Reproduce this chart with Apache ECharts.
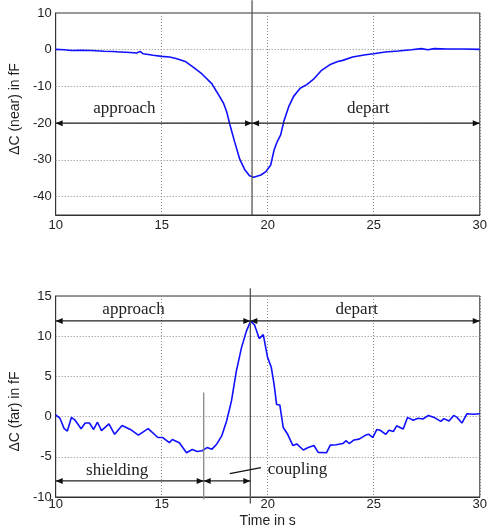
<!DOCTYPE html>
<html>
<head>
<meta charset="utf-8">
<script src="https://cdn.jsdelivr.net/npm/echarts@6/dist/echarts.min.js"></script>
<style>
  html, body { margin: 0; padding: 0; background: #fff; }
  #chart { width: 490px; height: 530px; }
</style>
</head>
<body>
<div id="chart"></div>
<script>
// near electrode: time (s) and capacitance change (fF)
const timeNear = [10.0, 10.4, 10.74, 11.2, 11.67, 12.28, 12.7, 13.05, 13.5, 13.82, 13.98, 14.13, 14.6, 15.0,
  15.37, 15.67, 15.9, 16.14, 16.5, 16.9, 17.37, 17.6, 17.91, 18.06, 18.22, 18.45, 18.68, 18.91, 19.14,
  19.34, 19.68, 19.91, 20.14, 20.3, 20.45, 20.61, 20.76, 20.99, 21.22, 21.53, 21.84, 22.15, 22.54, 22.92,
  23.3, 23.54, 24.0, 24.62, 25.0, 25.54, 26.16, 26.78, 27.24, 27.55, 27.86, 28.47, 29.24, 30.0]
const capNear = [0.1, 0.0, -0.2, -0.15, -0.2, -0.4, -0.5, -0.6, -0.75, -0.9, -0.45, -1.1, -1.5, -1.8,
  -2.0, -2.4, -2.8, -3.3, -4.8, -6.6, -9.3, -11.5, -14.5, -16.8, -20.5, -25.3, -29.8, -32.6, -34.3,
  -34.7, -34.1, -33.2, -31.4, -27.3, -25.0, -23.2, -19.5, -15.5, -12.7, -10.5, -9.5, -8.1, -5.6, -4.1,
  -3.2, -2.9, -2.0, -1.35, -1.1, -0.6, -0.35, 0.0, 0.3, 0.0, 0.3, 0.2, 0.2, 0.1]

// far electrode
const timeFar = [10.0, 10.2, 10.4, 10.55, 10.74, 10.9, 11.2, 11.39, 11.59, 11.79, 11.97, 12.16, 12.51, 12.78,
  13.13, 13.52, 13.9, 14.36, 14.82, 15.05, 15.36, 15.5, 15.83, 16.17, 16.44, 16.67, 16.9, 17.14, 17.37,
  17.6, 17.83, 18.06, 18.29, 18.52, 18.76, 18.99, 19.19, 19.37, 19.6, 19.79, 19.99, 20.17, 20.3, 20.42,
  20.57, 20.73, 20.94, 21.19, 21.37, 21.68, 21.91, 22.18, 22.38, 22.77, 22.95, 23.23, 23.54, 23.7, 23.84,
  24.07, 24.31, 24.62, 24.77, 24.95, 25.15, 25.3, 25.57, 25.72, 25.93, 26.08, 26.24, 26.39, 26.59, 26.86,
  27.09, 27.32, 27.58, 27.85, 28.16, 28.31, 28.55, 28.77, 28.93, 29.16, 29.39, 29.7, 30.0]
const capFar = [0.2, -0.2, -1.5, -1.8, -0.1, -0.4, -1.5, -0.8, -0.8, -1.6, -0.7, -1.75, -0.9, -2.2,
  -1.1, -1.6, -2.3, -1.5, -2.6, -2.6, -3.25, -2.85, -3.25, -4.5, -4.1, -4.35, -4.25, -3.85, -4.05,
  -3.4, -2.4, -0.55, 1.95, 5.65, 8.55, 10.6, 11.85, 11.45, 9.7, 10.2, 7.4, 6.1, 4.0, 1.5,
  1.45, -1.35, -2.2, -3.6, -3.4, -4.15, -3.85, -3.6, -4.45, -4.5, -3.55, -3.5, -3.35, -3.0, -3.35,
  -2.9, -2.8, -2.3, -2.2, -2.6, -1.6, -1.7, -2.2, -1.7, -1.85, -1.15, -1.35, -1.55, -0.1, -0.45,
  -0.2, -0.3, 0.15, -0.1, -0.6, -0.25, -0.55, 0.15, -0.1, -0.8, 0.35, 0.3, 0.35]

// grid values of the upper plot (its axis starts at -45)
const nearGridY = [0, -10, -20, -30, -40]
const gridX = [15, 20, 25]

// annotations: [from, to, level]
const nearArrows = [[10, 19.26, -20], [19.26, 30, -20]]
const farArrows = [[10, 19.18, 11.9], [19.18, 30, 11.9], [10, 16.98, -8], [16.98, 19.18, -8]]
// vertical markers: [time, top, bottom]
const nearMarkers = [[19.26, 13.5, -45]]
const farMarkers = [[19.18, 15.96, -10.8], [16.98, 3.0, -10.3]]
// text annotations
const nearLabelText = ['approach', 'depart']
const nearLabelPos = [[13.24, -16.1], [24.74, -16.1]]
const farLabelText = ['approach', 'depart', 'shielding', 'coupling']
const farLabelPos = [[13.67, 13.3], [24.2, 13.3], [12.9, -6.7], [21.4, -6.6]]
const couplingLeader = [[18.21, -7.1, 19.68, -6.35]]

const sans = 'Liberation Sans, Arial, sans-serif'
const serif = 'Liberation Serif, Times New Roman, serif'
const ink = '#222'

function zip(xs, ys) {
  return xs.map((x, i) => [x, ys[i]])
}

function renderArrow(params, api) {
  const a = api.coord([api.value(0), api.value(2)])
  const b = api.coord([api.value(1), api.value(2)])
  const L = 7
  const W = 3
  return {
    type: 'group',
    children: [
      { type: 'line', shape: { x1: a[0], y1: a[1], x2: b[0], y2: b[1] }, style: { stroke: ink, lineWidth: 1.2 } },
      { type: 'polygon', shape: { points: [[a[0], a[1]], [a[0] + L, a[1] - W], [a[0] + L, a[1] + W]] }, style: { fill: '#111' } },
      { type: 'polygon', shape: { points: [[b[0], b[1]], [b[0] - L, b[1] - W], [b[0] - L, b[1] + W]] }, style: { fill: '#111' } }
    ]
  }
}

function renderMarker(params, api) {
  const a = api.coord([api.value(0), api.value(1)])
  const b = api.coord([api.value(0), api.value(2)])
  return {
    type: 'line',
    shape: { x1: a[0], y1: a[1], x2: b[0], y2: b[1] },
    style: { stroke: params.dataIndex === 0 ? '#555' : '#888', lineWidth: 1.3 }
  }
}

function renderLeader(params, api) {
  const a = api.coord([api.value(0), api.value(1)])
  const b = api.coord([api.value(2), api.value(3)])
  return {
    type: 'line',
    shape: { x1: a[0], y1: a[1], x2: b[0], y2: b[1] },
    style: { stroke: '#111', lineWidth: 1.4 }
  }
}

function labelRenderer(texts) {
  return (params, api) => {
    const p = api.coord([api.value(0), api.value(1)])
    return {
      type: 'text',
      x: p[0],
      y: p[1],
      style: {
        text: texts[params.dataIndex],
        fill: ink,
        fontFamily: serif,
        fontSize: 17,
        align: 'center',
        verticalAlign: 'middle'
      }
    }
  }
}

const dotted = { color: '#888', type: [1, 2], width: 1 }

function xAxisOf(gridIndex, margin, withName) {
  return {
    type: 'value',
    gridIndex: gridIndex,
    min: 10,
    max: 30,
    interval: 5,
    name: withName ? 'Time in s' : '',
    nameLocation: 'middle',
    nameGap: 17,
    nameTextStyle: { color: ink, fontFamily: sans, fontSize: 14 },
    axisLine: { show: true, onZero: false, lineStyle: { color: '#333', width: 1 } },
    axisTick: { show: false },
    axisLabel: { color: ink, fontFamily: sans, fontSize: 13, margin: margin },
    splitLine: { show: true, lineStyle: dotted }
  }
}

let myChart = echarts.init(document.getElementById('chart'))
let option = {
  animation: false,
  backgroundColor: '#fff',
  grid: [
    { left: 51, right: 7, top: 13, height: 202, show: true, borderColor: '#333', borderWidth: 1 },
    { left: 51, right: 7, top: 296, height: 201, show: true, borderColor: '#333', borderWidth: 1 }
  ],
  xAxis: [xAxisOf(0, 4, false), xAxisOf(1, 1, true)],
  yAxis: [
    {
      type: 'value',
      gridIndex: 0,
      min: -45,
      max: 10,
      interval: 5,
      name: 'ΔC (near) in fF',
      nameLocation: 'middle',
      nameGap: 27,
      nameTextStyle: { color: ink, fontFamily: sans, fontSize: 14, padding: [0, 0, 0, 10] },
      axisLine: { show: true, onZero: false, lineStyle: { color: '#333', width: 1 } },
      axisTick: { show: false },
      axisLabel: {
        color: ink,
        fontFamily: sans,
        fontSize: 13,
        margin: 4,
        formatter: v => (v % 10 === 0 ? String(v) : '')
      },
      splitLine: { show: false }
    },
    {
      type: 'value',
      gridIndex: 1,
      min: -10,
      max: 15,
      interval: 5,
      name: 'ΔC (far) in fF',
      nameLocation: 'middle',
      nameGap: 27,
      nameTextStyle: { color: ink, fontFamily: sans, fontSize: 14, padding: [0, 30, 0, 0] },
      axisLine: { show: true, onZero: false, lineStyle: { color: '#333', width: 1 } },
      axisTick: { show: false },
      axisLabel: { color: ink, fontFamily: sans, fontSize: 13, margin: 4 },
      splitLine: { show: true, lineStyle: dotted }
    }
  ],
  series: [
    {
      type: 'line',
      xAxisIndex: 0,
      yAxisIndex: 0,
      data: zip(timeNear, capNear),
      showSymbol: false,
      lineStyle: { color: '#1010ff', width: 1.6 },
      itemStyle: { color: '#1010ff' },
      z: 3,
      markLine: {
        silent: true,
        symbol: 'none',
        label: { show: false },
        lineStyle: dotted,
        z: 1,
        data: nearGridY.map(v => ({ yAxis: v })).concat(gridX.map(v => ({ xAxis: v })))
      }
    },
    {
      type: 'line',
      xAxisIndex: 1,
      yAxisIndex: 1,
      data: zip(timeFar, capFar),
      showSymbol: false,
      lineStyle: { color: '#1010ff', width: 1.6 },
      itemStyle: { color: '#1010ff' },
      z: 3
    },
    { type: 'custom', xAxisIndex: 0, yAxisIndex: 0, data: nearMarkers, renderItem: renderMarker, silent: true, z: 4 },
    { type: 'custom', xAxisIndex: 1, yAxisIndex: 1, data: farMarkers, renderItem: renderMarker, silent: true, z: 4 },
    { type: 'custom', xAxisIndex: 0, yAxisIndex: 0, data: nearArrows, renderItem: renderArrow, silent: true, z: 5 },
    { type: 'custom', xAxisIndex: 1, yAxisIndex: 1, data: farArrows, renderItem: renderArrow, silent: true, z: 5 },
    { type: 'custom', xAxisIndex: 1, yAxisIndex: 1, data: couplingLeader, renderItem: renderLeader, silent: true, z: 5 },
    { type: 'custom', xAxisIndex: 0, yAxisIndex: 0, data: nearLabelPos, renderItem: labelRenderer(nearLabelText), silent: true, z: 6 },
    { type: 'custom', xAxisIndex: 1, yAxisIndex: 1, data: farLabelPos, renderItem: labelRenderer(farLabelText), silent: true, z: 6 }
  ]
}
myChart.setOption(option)
</script>
</body>
</html>
